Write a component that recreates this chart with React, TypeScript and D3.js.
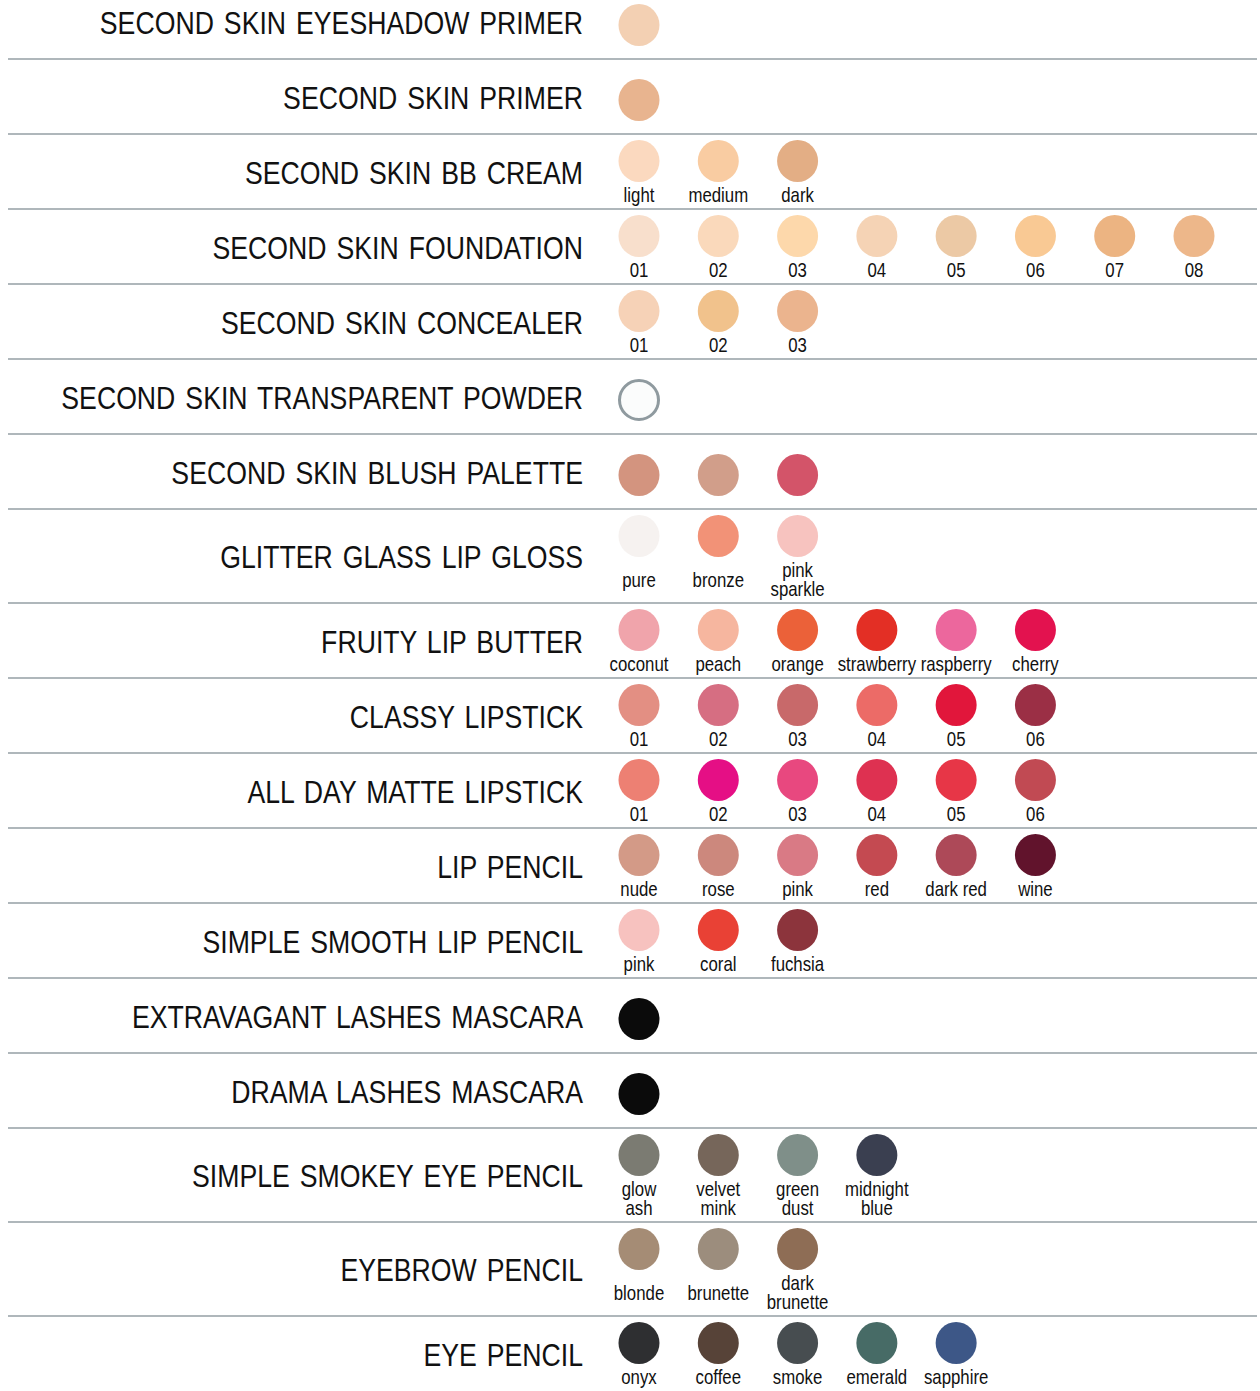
import { useMemo } from "react";
import * as d3 from "d3";

const productNames = [
  "SECOND SKIN EYESHADOW PRIMER",
  "SECOND SKIN PRIMER",
  "SECOND SKIN BB CREAM",
  "SECOND SKIN FOUNDATION",
  "SECOND SKIN CONCEALER",
  "SECOND SKIN TRANSPARENT POWDER",
  "SECOND SKIN BLUSH PALETTE",
  "GLITTER GLASS LIP GLOSS",
  "FRUITY LIP BUTTER",
  "CLASSY LIPSTICK",
  "ALL DAY MATTE LIPSTICK",
  "LIP PENCIL",
  "SIMPLE SMOOTH LIP PENCIL",
  "EXTRAVAGANT LASHES MASCARA",
  "DRAMA LASHES MASCARA",
  "SIMPLE SMOKEY EYE PENCIL",
  "EYEBROW PENCIL",
  "EYE PENCIL",
];

// shade names per product ("" = no label, "\n" splits two lines)
const shadeLabels: string[][] = [
  [""],
  [""],
  ["light", "medium", "dark"],
  ["01", "02", "03", "04", "05", "06", "07", "08"],
  ["01", "02", "03"],
  [""],
  ["", "", ""],
  ["pure", "bronze", "pink\nsparkle"],
  ["coconut", "peach", "orange", "strawberry", "raspberry", "cherry"],
  ["01", "02", "03", "04", "05", "06"],
  ["01", "02", "03", "04", "05", "06"],
  ["nude", "rose", "pink", "red", "dark red", "wine"],
  ["pink", "coral", "fuchsia"],
  [""],
  [""],
  ["glow\nash", "velvet\nmink", "green\ndust", "midnight\nblue"],
  ["blonde", "brunette", "dark\nbrunette"],
  ["onyx", "coffee", "smoke", "emerald", "sapphire"],
];

const shadeColors: string[][] = [
  ["#f3d0b3"],
  ["#e8b48f"],
  ["#fbd9bf", "#f9cca2", "#e3ae85"],
  ["#f8dfcc", "#fad9bb", "#fdd8ab", "#f5d3b5", "#ecc9a5", "#f9c994", "#ecb482", "#edb78a"],
  ["#f6d2b7", "#f1c28c", "#ebb48e"],
  ["none"],
  ["#d3947f", "#d19e8a", "#d35469"],
  ["#f6f2f0", "#f29277", "#f7c3bf"],
  ["#f0a4ab", "#f6b69f", "#eb6139", "#e32f25", "#ec679d", "#e3124f"],
  ["#e38f83", "#d66e82", "#c8696a", "#ec6b67", "#e1163b", "#9b2f45"],
  ["#ed8073", "#e50f85", "#e8487f", "#de3151", "#e73647", "#c14a53"],
  ["#d39a87", "#cc887d", "#d97a85", "#c44a51", "#ad4958", "#61132c"],
  ["#f7c2bf", "#e94135", "#8c343c"],
  ["#0b0b0b"],
  ["#0b0b0b"],
  ["#7b7b72", "#76665a", "#7f8f89", "#3a3f50"],
  ["#a58c75", "#9c8d7d", "#8e6d55"],
  ["#2e2f31", "#574338", "#474d50", "#476b66", "#3d5787"],
];

const W = 1260;
const H = 1391;
const ROW_H = 75;
const ROW_H_TALL = 94;
const FONT = "'Liberation Sans', Arial, sans-serif";
const NAME_SQUEEZE = 0.86; // product names
const LABEL_SQUEEZE = 0.82; // shade names

export default function App() {
  const rows = useMemo(() => {
    let top = -16;
    return productNames.map((name, i) => {
      const labels = shadeLabels[i];
      const hasLabels = labels.some((l) => l !== "");
      const tall = labels.some((l) => l.includes("\n"));
      const h = tall ? ROW_H_TALL : ROW_H;
      const r = { name, i, top, h, hasLabels, tall, labels, colors: shadeColors[i] };
      top += h;
      return r;
    });
  }, []);

  // swatch column positions
  const x = d3.scaleLinear().domain([0, 7]).range([639, 1194]);

  return (
    <div style={{ position: "absolute", left: 0, top: 0 }}>
      <svg width={W} height={H} style={{ display: "block", background: "#fff" }}>
        {rows.map((row) => {
          const mid = row.top + row.h / 2;
          const cy = row.hasLabels ? row.top + 27 : row.top + 41;
          return (
            <g key={row.name}>
              {row.i > 0 && (
                <line x1={8} x2={1257} y1={row.top} y2={row.top} stroke="#959fa4" strokeWidth={1.6} />
              )}
              <text
                transform={`translate(583,${mid + 12}) scale(${NAME_SQUEEZE},1)`}
                textAnchor="end"
                fontFamily={FONT}
                fontSize={31}
                wordSpacing={3}
                fill="#111"
              >
                {row.name}
              </text>
              {row.colors.map((c, j) => (
                <g key={j}>
                  <ellipse
                    cx={x(j)}
                    cy={cy}
                    rx={c === "none" ? 19.5 : 20.5}
                    ry={c === "none" ? 19.5 : 21}
                    fill={c === "none" ? "#fbfcfc" : c}
                    stroke={c === "none" ? "#8f9a9f" : "none"}
                    strokeWidth={c === "none" ? 3 : 0}
                  />
                  {row.labels[j] && (() => {
                    const lines = row.labels[j].split("\n");
                    const base =
                      lines.length === 2 ? row.top + 68 : row.tall ? row.top + 77.5 : row.top + 67.5;
                    return (
                      <text
                        transform={`translate(${x(j)},${base}) scale(${LABEL_SQUEEZE},1)`}
                        textAnchor="middle"
                        fontFamily={FONT}
                        fontSize={20.5}
                        fill="#111"
                      >
                        {lines.map((ln, k) => (
                          <tspan key={k} x={0} y={k * 19}>
                            {ln}
                          </tspan>
                        ))}
                      </text>
                    );
                  })()}
                </g>
              ))}
            </g>
          );
        })}
      </svg>
    </div>
  );
}
